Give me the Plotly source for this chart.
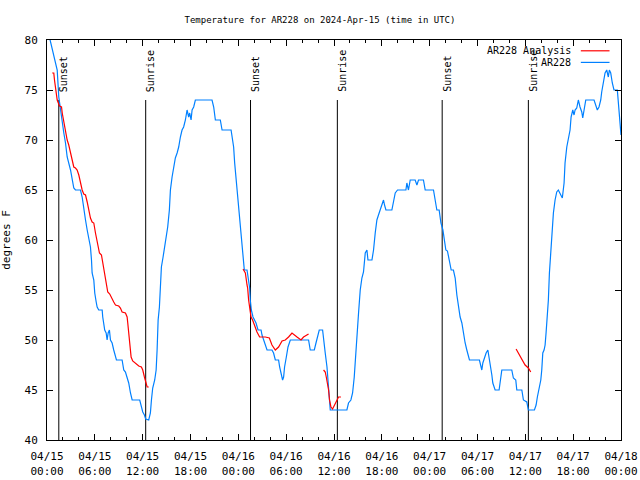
import plotly.graph_objects as go

# ---- data (hours since 2024-04-15 00:00 UTC, degrees F) ----
obs_hours = [0.3, 0.85, 1.28, 1.48, 1.69, 1.91, 2.11, 2.32, 2.53, 2.95, 3.16, 3.36, 3.57, 4.20, 4.41, 4.61, 4.83, 5.04, 5.24, 5.45,
             5.58, 5.66, 5.87, 5.99, 6.17, 6.29, 6.49, 6.92, 6.99, 7.12, 7.24, 7.42, 7.54, 7.67, 7.83, 7.96, 8.17, 8.37, 8.59, 8.71,
             9.42, 9.63, 9.84, 10.05, 10.25, 10.47, 10.68, 11.63, 11.81, 12.01, 12.22, 12.38, 12.76, 12.97, 13.10, 13.26, 13.51, 13.69, 13.81, 13.94,
             14.10, 14.22, 14.35, 14.56, 14.76, 14.98, 15.14, 15.35, 15.48, 15.69, 15.89, 16.10, 16.32, 16.52, 16.73, 16.94, 17.14, 17.36, 17.57, 17.77,
             17.90, 18.07, 18.20, 18.40, 18.61, 20.70, 20.91, 21.12, 21.74, 21.96, 23.09, 23.25, 23.41, 23.54, 23.71, 23.84, 24.04, 24.25, 24.46, 24.59,
             24.75, 25.09, 25.29, 25.42, 25.50, 25.63, 25.84, 26.01, 26.22, 26.47, 26.85, 26.97, 27.17, 27.38, 27.60, 28.22, 28.42, 28.64, 29.05, 29.18,
             29.35, 29.55, 29.68, 29.80, 30.02, 30.23, 30.52, 32.81, 33.02, 33.53, 33.74, 33.94, 34.15, 34.57, 34.69, 34.90, 35.12, 35.24, 35.37, 35.53,
             37.62, 37.82, 38.12, 38.33, 38.54, 38.66, 38.88, 39.08, 39.29, 39.50, 39.70, 39.92, 40.13, 40.26, 40.76, 40.96, 41.17, 41.38, 41.58, 41.80,
             42.01, 42.21, 42.34, 42.51, 43.26, 43.46, 43.68, 43.97, 45.02, 45.14, 45.34, 45.56, 46.18, 46.40, 46.60, 47.22, 47.44, 48.48, 48.69, 48.90,
             49.19, 49.41, 49.66, 49.82, 50.03, 50.23, 50.36, 50.48, 50.70, 50.98, 51.20, 51.41, 51.61, 51.82, 52.04, 52.24, 52.45, 52.66, 52.86, 52.99,
             54.24, 54.42, 54.54, 54.67, 54.87, 55.08, 55.30, 55.46, 55.67, 55.80, 55.92, 56.21, 56.71, 56.92, 57.05, 58.30, 58.50, 58.80, 58.93, 59.56,
             59.76, 60.18, 60.38, 61.14, 61.35, 61.51, 61.72, 61.94, 62.06, 62.19, 62.35, 62.48, 62.60, 62.76, 62.89, 63.02, 63.19, 63.32, 63.52, 63.73,
             63.94, 64.14, 64.36, 64.64, 64.86, 64.98, 65.20, 65.40, 65.61, 65.74, 65.95, 66.11, 66.24, 66.45, 66.65, 66.86, 67.08, 67.20, 67.36, 67.58,
             68.62, 68.83, 69.03, 69.24, 69.46, 69.58, 69.78, 70.00, 70.21, 70.41, 70.54, 70.71, 70.91, 71.12, 71.54, 71.71, 71.88, 72.0]
obs_temp = [80.3, 78.5, 77, 74.3, 73, 72, 70.7, 69.7, 68.3, 67, 66, 65.2, 65, 65, 64.3, 63, 62, 61, 60, 59.3,
            58, 56.7, 56, 54.7, 53.8, 53.3, 53, 53, 52.3, 51.5, 51, 50.7, 50, 50.7, 51, 50, 49.7, 49, 48.3, 48,
            48, 47, 46.8, 46.3, 45.7, 44.7, 44, 44, 43.3, 42.8, 42.5, 42.1, 42, 42.7, 44, 45.2, 46, 47, 49, 52,
            53.3, 55, 57.3, 58.3, 59.3, 60.3, 61.3, 63, 65, 66.3, 67.3, 68.2, 68.7, 69.3, 70.3, 71, 71.3, 72, 73, 72.3,
            72.7, 72, 73, 73.3, 74, 74, 73.3, 72, 72, 71, 71, 70.3, 69.3, 67.7, 66.3, 65, 63.3, 61.5, 59.5, 58.5,
            57, 57, 56, 55.2, 54, 53, 52.3, 52, 51.7, 51, 51, 50.5, 50, 49.5, 49, 49, 48.7, 48, 48, 47.3,
            46.7, 46, 46.3, 47.3, 48.3, 49.3, 50, 50, 49, 49, 49.7, 50.3, 51, 51, 50, 48.7, 47.3, 46, 44.7, 43,
            43, 43.7, 44, 44.7, 46.3, 48, 50.3, 52.7, 55, 56.2, 56.8, 58.7, 59, 58, 58, 59, 60.7, 62, 62.5, 63,
            63.5, 64, 63.5, 63, 63, 64, 64.7, 65, 65, 65.7, 65, 66, 66, 65.5, 66, 66, 65, 65, 64, 63,
            63, 61.7, 61, 60, 59, 58.9, 58.3, 57.7, 57, 57, 56.2, 54.5, 53.2, 52.3, 51.7, 50.5, 49.7, 49, 48.3, 48,
            48, 47.3, 47, 47.7, 48.2, 48.7, 49, 48.3, 47.3, 46.5, 45.7, 45, 45, 46.3, 47, 47, 46.2, 46, 45, 45,
            44, 43.8, 43, 43, 43.5, 44.3, 45.2, 46, 47, 48.7, 49, 49.5, 50.7, 52.3, 54, 56.7, 59, 61, 62.7, 64,
            64.8, 65, 64.7, 64.2, 65.7, 67.7, 69.3, 70, 71, 72.3, 73, 72.5, 73, 73.2, 74, 73.3, 72.8, 72.2, 73, 74,
            74, 73.5, 73, 73.3, 74, 74.8, 75.7, 76.7, 77, 76.3, 77, 76.7, 75.7, 75, 75, 73, 71.3, 70.5]

ana_hours = [0.65, 0.85, 0.94, 1.07, 1.28, 1.57, 1.82, 1.91, 2.11, 2.32, 2.53, 2.73, 2.95, 3.16, 3.36, 3.57, 3.78, 3.99, 4.20, 4.41,
             4.61, 4.83, 5.04, 5.24, 5.45, 5.66, 5.87, 6.08, 6.29, 6.58, 6.83, 6.99, 7.21, 7.42, 7.62, 7.87, 8.08, 8.37, 8.59, 9.00,
             9.21, 9.42, 9.84, 10.05, 10.13, 10.25, 10.38, 10.55, 10.75, 11.09, 11.51, 11.84, 12.01, 12.22, 12.38, 12.56, 12.76, None,
             24.59, 24.88, 25.09, 25.17, 25.29, 25.42, 25.59, 25.79, 26.01, 26.34, 26.67, 26.97, 27.38, 27.89, 28.22, 28.64, 29.05, 29.48, 29.89, 30.30,
             30.73, 31.36, 31.86, 32.18, 32.81, None,
             34.69, 34.90, 35.03, 35.19, 35.32, 35.44, 35.62, 35.82, 36.03, 36.28, 36.57, 36.87, None,
             58.84, 59.13, 59.56, 59.97, 60.38, 60.68]
ana_temp = [76.7, 76.7, 76, 75, 74, 73.4, 73.3, 72.7, 71.7, 70.7, 70, 69.5, 68.8, 68.2, 67.3, 67.2, 67, 66.5, 65.7, 65,
            64.6, 64.5, 63.8, 63, 62.2, 61.8, 61.7, 60.7, 59.7, 58.7, 58.5, 57.7, 56.7, 55.7, 54.8, 54.6, 54.2, 53.8, 53.5, 53.4,
            53.2, 52.8, 52.7, 52.3, 51.7, 50.7, 49.3, 48.3, 47.9, 47.7, 47.4, 47.3, 47, 46.3, 45.7, 45.3, 45.3, None,
            57.1, 56.7, 55.5, 55.2, 54, 53.2, 52.3, 52, 51.5, 50.8, 50.3, 50.3, 50.3, 50.2, 49.5, 49, 49.3, 49.9, 50, 50.3,
            50.7, 50.3, 50, 50.3, 50.6, None,
            47, 46.8, 46.3, 45.7, 45, 44, 43.3, 43.1, 43.4, 43.8, 44.3, 44.3, None,
            49.1, 48.7, 48, 47.5, 47.2, 46.8]

sun_events = ["Sunset", "Sunrise", "Sunset", "Sunrise", "Sunset", "Sunrise"]
sun_hours = [1.48, 12.38, 25.53, 36.42, 49.57, 60.38]
marker_top = 74.0
label_base = 74.6

tick_hours = list(range(0, 73, 6))
tick_labels = ["04/15<br>00:00", "04/15<br>06:00", "04/15<br>12:00", "04/15<br>18:00",
               "04/16<br>00:00", "04/16<br>06:00", "04/16<br>12:00", "04/16<br>18:00",
               "04/17<br>00:00", "04/17<br>06:00", "04/17<br>12:00", "04/17<br>18:00",
               "04/18<br>00:00"]

FONT = "DejaVu Sans Mono"
fig = go.Figure()

for h in sun_hours:
    fig.add_trace(go.Scatter(x=[h, h], y=[40, marker_top], mode="lines",
                             line=dict(color="black", width=1), showlegend=False, hoverinfo="skip"))

fig.add_trace(go.Scatter(x=obs_hours, y=obs_temp, mode="lines", name="AR228",
                         line=dict(color="rgb(0,128,255)", width=1.2), showlegend=False))
fig.add_trace(go.Scatter(x=ana_hours, y=ana_temp, mode="lines", name="AR228 Analysis",
                         line=dict(color="rgb(255,0,0)", width=1.2), showlegend=False, connectgaps=False))

for name, h in zip(sun_events, sun_hours):
    fig.add_annotation(x=h, y=label_base, text=name, textangle=-90, showarrow=False,
                       xanchor="left", yanchor="bottom", xshift=-3,
                       font=dict(family=FONT, size=10, color="black"))

# manual gnuplot-style legend (text left of sample line)
leg = [("AR228 Analysis", "rgb(255,0,0)", 0.973), ("AR228", "rgb(0,128,255)", 0.944)]
for txt, col, yp in leg:
    fig.add_annotation(x=0.917, y=yp, xref="paper", yref="paper", text=txt, showarrow=False,
                       xanchor="right", yanchor="middle", font=dict(family=FONT, size=10, color="black"))
    fig.add_shape(type="line", xref="paper", yref="paper", x0=0.930, x1=0.980, y0=yp, y1=yp,
                  line=dict(color=col, width=1.2))

fig.update_layout(
    width=640, height=480,
    margin=dict(l=47, r=19, t=40, b=40, autoexpand=False),
    paper_bgcolor="white", plot_bgcolor="white",
    font=dict(family=FONT, size=11, color="black"),
    title=dict(text="Temperature for AR228 on 2024-Apr-15 (time in UTC)", x=0.5, xanchor="center",
               y=1 - 20 / 480, yanchor="middle", font=dict(family=FONT, size=9)),
    showlegend=False,
)
fig.update_xaxes(range=[0, 72], tickvals=tick_hours, ticktext=tick_labels, ticks="inside", ticklen=6,
                 tickcolor="black", showline=True, linecolor="black", linewidth=1, mirror="ticks",
                 showgrid=False, zeroline=False, tickfont=dict(family=FONT, size=11),
                 automargin=False, ticklabelstandoff=6,
                 minor=dict(dtick=2, tick0=0, ticks="inside", ticklen=3, tickcolor="black", showgrid=False))
fig.update_yaxes(range=[40, 80], dtick=5, tick0=40, ticks="inside", ticklen=6, tickcolor="black",
                 showline=True, linecolor="black", linewidth=1, mirror="ticks", showgrid=False, zeroline=False,
                 tickfont=dict(family=FONT, size=11), automargin=False, ticklabelstandoff=6,
                 title=dict(text="degrees F", font=dict(family=FONT, size=11), standoff=11))

fig.write_html("out.html")
